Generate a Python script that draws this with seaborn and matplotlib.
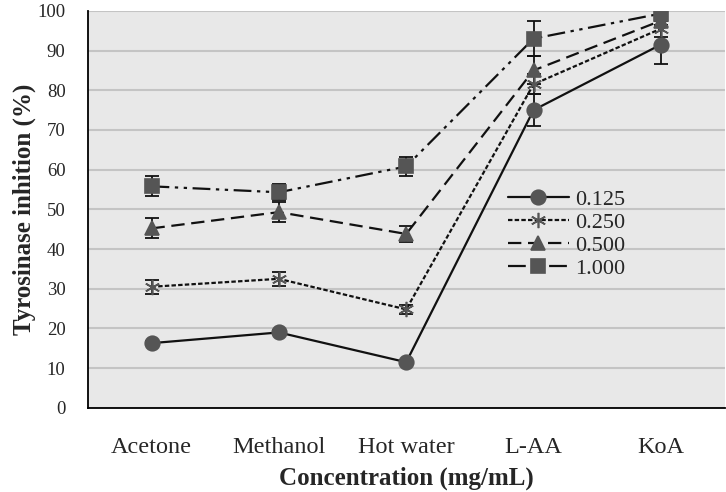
import numpy as np
import pandas as pd
import seaborn as sns
import matplotlib
matplotlib.use('Agg')
import matplotlib.pyplot as plt

# 数据
categories = ['Acetone', 'Methanol', 'Hot water', 'L-AA', 'KoA']
series_names = ['0.125', '0.250', '0.500', '1.000']
vals_0125 = [16.3, 19.0, 11.5, 75.0, 91.5]
vals_0250 = [30.5, 32.5, 24.8, 81.5, 95.5]
vals_0500 = [45.2, 49.3, 43.8, 85.0, 97.5]
vals_1000 = [55.8, 54.3, 60.8, 93.0, 99.3]
err_0125 = [0.5, 0.5, 0.5, 4.0, 5.0]
err_0250 = [1.8, 1.8, 1.2, 2.5, 2.0]
err_0500 = [2.5, 2.5, 2.0, 3.5, 1.0]
err_1000 = [2.5, 2.0, 2.5, 4.5, 1.0]

values = [vals_0125, vals_0250, vals_0500, vals_1000]
errors = [err_0125, err_0250, err_0500, err_1000]

sns.set_style('white')
plt.rcParams['font.family'] = ['Liberation Serif', 'DejaVu Serif']

fig = plt.figure(figsize=(7.26, 4.92), dpi=100)
ax = fig.add_axes([0.121, 0.171, 0.877, 0.807])
ax.set_facecolor('#e8e8e8')

styles = [
    dict(marker='o', linestyle='-', markersize=10.5),
    dict(marker=(6, 2, 0), linestyle=(0, (2, 1)), markersize=11),
    dict(marker='^', linestyle=(0, (6, 3)), markersize=10.5),
    dict(marker='s', linestyle=(0, (8, 2.5, 1.5, 2.5, 1.5, 2.5)), markersize=10.5),
]

x = np.arange(len(categories))
for name, v, e, st in zip(series_names, values, errors, styles):
    df = pd.DataFrame({'x': x, 'y': v})
    ax.errorbar(x, v, yerr=e, fmt='none', ecolor='#111111', elinewidth=1.3,
                capsize=5, capthick=1.3, zorder=2)
    sns.lineplot(data=df, x='x', y='y', ax=ax, color='#111111', linewidth=1.6,
                 marker=st['marker'], linestyle=st['linestyle'],
                 markersize=st['markersize'], markerfacecolor='#555555',
                 markeredgecolor='#555555', markeredgewidth=1.2,
                 label=name, zorder=3)

ax.set_xlim(-0.5, 4.5)
ax.set_ylim(0, 100)
ax.set_yticks(range(0, 101, 10))
ax.yaxis.grid(True, color='#c4c4c4', linewidth=1.5)
ax.set_axisbelow(True)

ax.set_xticks(x)
ax.set_xticklabels(categories, fontsize=17.5)
ax.set_xticks(np.arange(-0.5, 5.0, 1.0), minor=True)
ax.tick_params(axis='x', which='major', length=0, pad=21)
ax.tick_params(axis='x', which='minor', length=7, width=1.2, direction='out', color='black')
ax.tick_params(axis='y', length=6, width=1.2, direction='out', labelsize=13.5,
               color='black', pad=10)

for s in ['top', 'right']:
    ax.spines[s].set_visible(False)
for s in ['left', 'bottom']:
    ax.spines[s].set_color('black')
    ax.spines[s].set_linewidth(1.3)

ax.set_xlabel('Concentration (mg/mL)', fontsize=18, fontweight='bold', labelpad=6)
ax.set_ylabel('Tyrosinase inhition (%)', fontsize=18, fontweight='bold', labelpad=1)

ax.legend(loc='upper left', bbox_to_anchor=(0.628, 0.6), frameon=False,
          fontsize=16, handlelength=2.75, handletextpad=0.3, labelspacing=0.1)

fig.savefig('out.png', dpi=100)
